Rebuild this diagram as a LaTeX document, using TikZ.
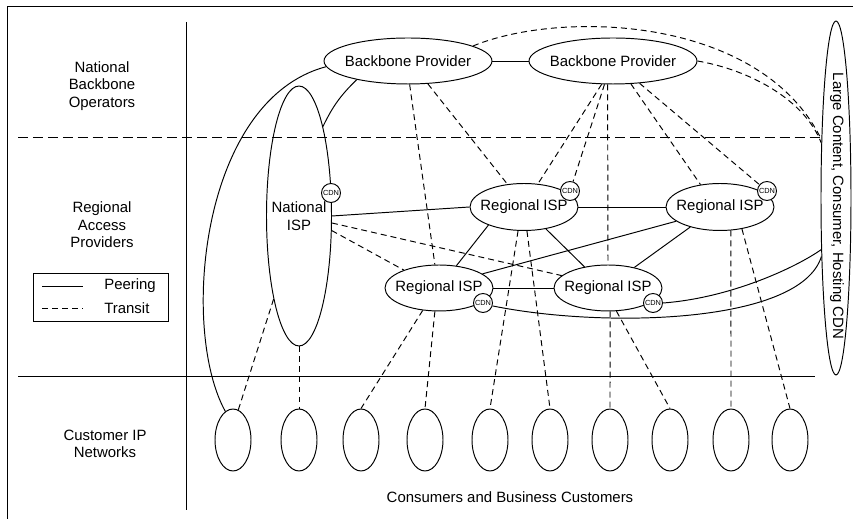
\documentclass[tikz,border=0pt]{standalone}
\usepackage{fontspec}
\setmainfont{Liberation Sans}
\usetikzlibrary{shapes.geometric}

\begin{document}
\begin{tikzpicture}[x=0.02cm,y=-0.02cm,line width=0.55pt,
  every node/.style={font=\fontsize{8.5}{10}\selectfont},
  isp/.style={draw,ellipse,inner xsep=-4pt,inner ysep=0pt},
  cdn/.style={draw,circle,fill=white,inner sep=0pt,minimum size=0.38cm,
    font=\fontsize{4.2}{5}\selectfont},
  cust/.style={draw,ellipse,minimum width=0.72cm,minimum height=1.24cm},
  transit/.style={dash pattern=on 3.4pt off 2.3pt}]
  \useasboundingbox (0,0) rectangle (853,519);
  \draw (7,519) -- (7,6) -- (853,6);
  \draw (186,22) -- (186,510);
  \draw (18,376) -- (815,376);
  \draw[dash pattern=on 5.7pt off 2.8pt] (18,137) -- (821,137);
  \node[align=center] (nbo) at (102,86) {National\\Backbone\\Operators};
  \node[align=center] (rap) at (102,225) {Regional\\Access\\Providers};
  \node[align=center] (cipn) at (105,444) {Customer IP\\Networks};
  \node (cbc) at (510,497) {Consumers and Business Customers};
%%%
  \draw (33,273) rectangle (168,321);
  \draw (42,286) -- (83,286);
  \draw[transit] (42,308) -- (83,308);
  \node[anchor=west] (peering) at (98,286) {Peering};
  \node[anchor=west] (transit) at (98,308) {Transit};
%%%
  \node[isp,minimum width=3.36cm,minimum height=0.92cm] (bp1) at (408,61) {Backbone Provider};
  \node[isp,minimum width=3.36cm,minimum height=0.92cm] (bp2) at (613,61) {Backbone Provider};
  \node[isp,align=center,minimum width=1.3cm,minimum height=5.2cm] (nisp) at (299,216) {National\\ISP};
  \node[isp,minimum width=2.16cm,minimum height=0.94cm] (r1) at (524,207) {Regional ISP};
  \node[isp,minimum width=2.16cm,minimum height=0.94cm] (r2) at (720,207) {Regional ISP};
  \node[isp,minimum width=2.16cm,minimum height=0.92cm] (r3) at (439,288) {Regional ISP};
  \node[isp,minimum width=2.16cm,minimum height=0.92cm] (r4) at (608,288) {Regional ISP};
  \node[draw,ellipse,minimum width=0.6cm,minimum height=7.08cm] (lcdn) at (836,198) {};
  \node[rotate=-90] (lcdntxt) at (837,206) {Large Content, Consumer, Hosting CDN};
  \foreach \i/\x in {1/233,2/299,3/361,4/425,5/490,6/550,7/610,8/670,9/731,10/790}
    \node[cust] (c\i) at (\x,440) {};
%%%
  \node[cdn] (ncdn) at (331,193) {CDN};
  \node[cdn] (r1cdn) at (570,191) {CDN};
  \node[cdn] (r2cdn) at (767,191) {CDN};
  \node[cdn] (r3cdn) at (483,303) {CDN};
  \node[cdn] (r4cdn) at (653,303) {CDN};
%%% peering
  \draw (bp1) -- (bp2);
  \draw (bp1.184) .. controls (200,100) and (180,330) .. (c1.105);
  \draw (bp1.200) to[bend right=10] (nisp.75);
  \draw (nisp.east) -- (r1.west);
  \draw (r1) -- (r2);
  \draw (r3) -- (r4);
  \draw (r1.207) -- (r3.52);
  \draw (r1.-45) -- (r4.138);
  \draw (r2.198) -- (r3.18);
  \draw (r2.214) -- (r4.38);
  \draw (r4cdn.east) .. controls (730,298) and (795,268) .. (lcdn.254);
  \draw (r3cdn.-17) .. controls (600,328) and (800,325) .. (lcdn.256);
%%% transit
  \draw[transit] (bp1.13) .. controls (560,10) and (760,15) .. (lcdn.104);
  \draw[transit] (bp2.east) .. controls (750,70) and (805,100) .. (lcdn.105);
  \draw[transit] (bp1.-49) -- (r1.126);
  \draw[transit] (bp1.-86) -- (r3.100);
  \draw[transit] (bp2.-116) -- (r1.59);
  \draw[transit] (bp2.-110) -- (r1cdn.72);
  \draw[transit] (bp2.-103) -- (r4.north);
  \draw[transit] (bp2.-52) -- (r2.131);
  \draw[transit] (bp2.-40) -- (r2cdn.140);
  \draw[transit] (nisp.-12) -- (r4.165);
  \draw[transit] (nisp.-24) -- (r3.153);
%%%
  \draw[transit] (nisp.253) -- (c1.80);
  \draw[transit] (nisp.south) -- (c2.north);
  \draw[transit] (r3.234) -- (c3.north);
  \draw[transit] (r3.260) -- (c4.north);
  \draw[transit] (r1.256) -- (c5.north);
  \draw[transit] (r1.-83) -- (c6.north);
  \draw[transit] (r4.-85) -- (c7.north);
  \draw[transit] (r4.-70) -- (c8.north);
  \draw[transit] (r2.-65) -- (c9.north);
  \draw[transit] (r2.-45) -- (c10.north);
\end{tikzpicture}
\end{document}
